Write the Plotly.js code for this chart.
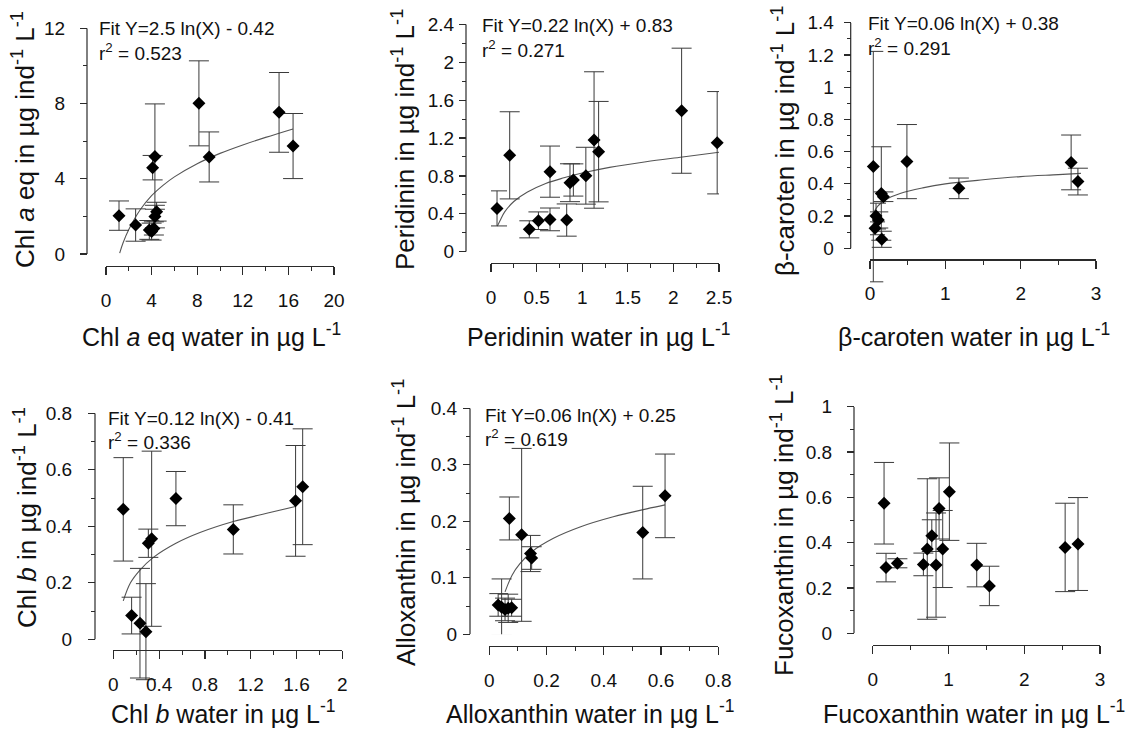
<!DOCTYPE html>
<html>
<head>
<meta charset="utf-8">
<script src="https://cdn.plot.ly/plotly-3.0.1.min.js"></script>
<style>html,body{margin:0;padding:0;background:#fff;}#chart{width:1136px;height:729px;}</style>
</head>
<body>
<div id="chart"></div>
<script>
// ---------------- DATA ----------------
// Panel 1: Chl a eq
const chlaX   = [1.14, 2.6, 3.8, 4.0, 4.2, 4.29, 4.44, 4.09, 4.29, 8.15, 9.05, 15.18, 16.41];
const chlaY   = [2.04, 1.54, 1.28, 1.19, 1.36, 1.99, 2.25, 4.59, 5.18, 8.01, 5.16, 7.53, 5.74];
const chlaErr = [0.78, 0.86, 0.5, 0.45, 0.35, 0.6, 0.5, 0.65, 2.8, 2.26, 1.33, 2.12, 1.73];
const chlaFitX = [1.2, 1.5, 2, 3, 4, 5, 6, 8, 10, 12, 14, 16.4];
const chlaFitY = [0.05, 0.6, 1.3, 2.35, 3.1, 3.65, 4.1, 4.8, 5.35, 5.8, 6.2, 6.65];

// Panel 2: Peridinin
const periX   = [0.066, 0.205, 0.42, 0.52, 0.647, 0.647, 0.83, 0.866, 0.903, 1.04, 1.13, 1.18, 2.09, 2.48];
const periY   = [0.457, 1.017, 0.236, 0.327, 0.341, 0.845, 0.334, 0.728, 0.757, 0.802, 1.179, 1.056, 1.488, 1.15];
const periErr = [0.185, 0.46, 0.09, 0.093, 0.12, 0.27, 0.17, 0.2, 0.17, 0.3, 0.72, 0.53, 0.66, 0.54];
const periFitX = [0.07, 0.1, 0.15, 0.25, 0.4, 0.6, 0.8, 1.0, 1.3, 1.7, 2.1, 2.5];
const periFitY = [0.27, 0.33, 0.42, 0.53, 0.63, 0.72, 0.78, 0.83, 0.89, 0.95, 1.0, 1.05];

// Panel 3: beta-caroten
const caroX   = [0.044, 0.08, 0.067, 0.11, 0.156, 0.178, 0.15, 0.49, 1.18, 2.67, 2.76];
const caroY   = [0.507, 0.2, 0.124, 0.176, 0.056, 0.32, 0.34, 0.538, 0.372, 0.533, 0.414];
const caroErr = [0.715, 0.08, 0.04, 0.05, 0.05, 0.03, 0.29, 0.23, 0.064, 0.17, 0.083];
const caroFitX = [0.05, 0.1, 0.2, 0.4, 0.7, 1.0, 1.5, 2.0, 2.5, 2.8];
const caroFitY = [0.22, 0.26, 0.30, 0.34, 0.375, 0.40, 0.425, 0.445, 0.457, 0.465];

// Panel 4: Chl b
const chlbX   = [0.087, 0.16, 0.233, 0.285, 0.306, 0.335, 0.547, 1.048, 1.592, 1.654];
const chlbY   = [0.46, 0.084, 0.057, 0.027, 0.34, 0.356, 0.498, 0.389, 0.49, 0.54];
const chlbErr = [0.183, 0.065, 0.194, 0.17, 0.05, 0.31, 0.096, 0.087, 0.196, 0.205];
const chlbFitX = [0.087, 0.15, 0.233, 0.35, 0.547, 0.757, 1.048, 1.34, 1.59];
const chlbFitY = [0.136, 0.2, 0.245, 0.29, 0.34, 0.378, 0.417, 0.446, 0.47];

// Panel 5: Alloxanthin
const alloX   = [0.07, 0.113, 0.144, 0.148, 0.031, 0.043, 0.055, 0.066, 0.078, 0.536, 0.614];
const alloY   = [0.205, 0.176, 0.143, 0.135, 0.052, 0.048, 0.044, 0.046, 0.047, 0.18, 0.245];
const alloErr = [0.038, 0.153, 0.032, 0.02, 0.02, 0.05, 0.02, 0.025, 0.015, 0.082, 0.074];
const alloFitX = [0.055, 0.08, 0.107, 0.148, 0.224, 0.317, 0.433, 0.55, 0.614];
const alloFitY = [0.075, 0.105, 0.125, 0.146, 0.17, 0.19, 0.208, 0.222, 0.229];

// Panel 6: Fucoxanthin
const fucoX   = [0.15, 0.176, 0.326, 0.669, 0.72, 0.78, 0.836, 0.876, 0.924, 1.012, 1.373, 1.54, 2.54, 2.71];
const fucoY   = [0.574, 0.29, 0.309, 0.304, 0.372, 0.431, 0.301, 0.551, 0.372, 0.625, 0.301, 0.209, 0.379, 0.394];
const fucoErr = [0.18, 0.063, 0.02, 0.05, 0.31, 0.07, 0.23, 0.135, 0.17, 0.215, 0.096, 0.087, 0.195, 0.205];

// Text
const yTitles = [
  "Chl <i>a</i> eq in µg ind<sup>-1</sup> L<sup>-1</sup>",
  "Peridinin in µg ind<sup>-1</sup> L<sup>-1</sup>",
  "β-caroten in µg ind<sup>-1</sup> L<sup>-1</sup>",
  "Chl <i>b</i> in µg ind<sup>-1</sup> L<sup>-1</sup>",
  "Alloxanthin in µg ind<sup>-1</sup> L<sup>-1</sup>",
  "Fucoxanthin in µg ind<sup>-1</sup> L<sup>-1</sup>"
];
const xTitles = [
  "Chl <i>a</i> eq water in µg L<sup>-1</sup>",
  "Peridinin water in µg L<sup>-1</sup>",
  "β-caroten water in µg L<sup>-1</sup>",
  "Chl <i>b</i> water in µg L<sup>-1</sup>",
  "Alloxanthin water in µg L<sup>-1</sup>",
  "Fucoxanthin water in µg L<sup>-1</sup>"
];
const fitTexts = ["Fit Y=2.5 ln(X) - 0.42", "Fit Y=0.22 ln(X) + 0.83", "Fit Y=0.06 ln(X) + 0.38", "Fit Y=0.12 ln(X) - 0.41", "Fit Y=0.06 ln(X) + 0.25", null];
const r2Texts  = ["r<sup>2</sup> = 0.523", "r<sup>2</sup> = 0.271", "r<sup>2</sup> = 0.291", "r<sup>2</sup> = 0.336", "r<sup>2</sup> = 0.619", null];

// ---------------- LAYOUT GEOMETRY (pixels) ----------------
const W = 1136, H = 729;
const FONT = "Liberation Sans, Arial, sans-serif";
const px = p => p / W;
const py = p => 1 - p / H;

// yd: pixel rows of the y-axis top value and of y = 0; ylo: extra room below 0 (data units) so long error bars are not clipped
const panels = [
  {X: chlaX, Y: chlaY, E: chlaErr, FX: chlaFitX, FY: chlaFitY,
   xd: [106, 334], xr: [0, 20], xdt: 4, xmd: 2, yd: [28.3, 254], yr: [0, 12], ydt: 4, ymd: 2, ylo: 0,
   xline: 266, yline: 87, ystand: 11, yt: [24, 140], xt: [211, 335], fit: [97, 28, 52]},
  {X: periX, Y: periY, E: periErr, FX: periFitX, FY: periFitY,
   xd: [491, 719], xr: [0, 2.5], xdt: 0.5, xmd: 0.25, yd: [24.3, 251.7], yr: [0, 2.4], ydt: 0.4, ymd: 0.2, ylo: 0,
   xline: 262.7, yline: 466, ystand: 1, yt: [404, 140], xt: [598, 335], fit: [480, 25, 49]},
  {X: caroX, Y: caroY, E: caroErr, FX: caroFitX, FY: caroFitY,
   xd: [870, 1096], xr: [0, 3], xdt: 1, xmd: 0.5, yd: [22.7, 248.3], yr: [0, 1.4], ydt: 0.2, ymd: 0.1, ylo: 0.25,
   xline: 259.3, yline: 850.7, ystand: 6, yt: [783, 141], xt: [974, 335], fit: [866, 23, 47]},
  {X: chlbX, Y: chlbY, E: chlbErr, FX: chlbFitX, FY: chlbFitY,
   xd: [113.3, 342.3], xr: [0, 2], xdt: 0.4, xmd: 0.2, yd: [413.3, 639.3], yr: [0, 0.8], ydt: 0.2, ymd: 0.1, ylo: 0.16,
   xline: 650, yline: 95, ystand: 12, yt: [25, 518], xt: [224, 712], fit: [106, 418, 441]},
  {X: alloX, Y: alloY, E: alloErr, FX: alloFitX, FY: alloFitY,
   xd: [489.3, 718.3], xr: [0, 0.8], xdt: 0.2, xmd: 0.1, yd: [408.3, 634.3], yr: [0, 0.4], ydt: 0.1, ymd: 0.05, ylo: 0,
   xline: 646, yline: 470, ystand: 2, yt: [404, 523], xt: [590, 712], fit: [483, 415, 438]},
  {X: fucoX, Y: fucoY, E: fucoErr, FX: null, FY: null,
   xd: [872.7, 1100], xr: [0, 3], xdt: 1, xmd: 0.5, yd: [406.7, 633.3], yr: [0, 1], ydt: 0.2, ymd: 0.1, ylo: 0,
   xline: 645, yline: 854, ystand: 11, yt: [782, 525], xt: [974, 712], fit: null}
];

function steps(a, b, d, skip) {
  const out = [];
  const n = Math.round((b - a) / d);
  for (let k = 0; k <= n; k++) {
    const v = +(a + k * d).toFixed(6);
    if (!skip || !skip.some(s => Math.abs(s - v) < 1e-9)) out.push(v);
  }
  return out;
}

const AX = '#2a2a2a';
const traces = [];
const layout = {
  width: W, height: H,
  margin: {l: 0, r: 0, t: 0, b: 0},
  paper_bgcolor: '#fff', plot_bgcolor: 'rgba(0,0,0,0)',
  showlegend: false,
  font: {family: FONT, color: '#111'},
  annotations: [], shapes: []
};

panels.forEach((p, i) => {
  const n = i + 1;
  const xa = n === 1 ? 'x' : 'x' + n;
  const ya = n === 1 ? 'y' : 'y' + n;
  const xk = n === 1 ? 'xaxis' : 'xaxis' + n;
  const yk = n === 1 ? 'yaxis' : 'yaxis' + n;

  if (p.FX) {
    traces.push({
      type: 'scatter', mode: 'lines', x: p.FX, y: p.FY, xaxis: xa, yaxis: ya,
      line: {color: '#555', width: 1.1, shape: 'spline', smoothing: 1}, hoverinfo: 'skip'
    });
  }
  traces.push({
    type: 'scatter', mode: 'markers', x: p.X, y: p.Y, xaxis: xa, yaxis: ya,
    cliponaxis: false,
    marker: {symbol: 'diamond', size: 10, color: '#000', line: {width: 0}},
    error_y: {type: 'data', array: p.E, visible: true, color: '#3a3a3a', thickness: 1, width: 10}
  });

  layout[xk] = {
    domain: [px(p.xd[0]), px(p.xd[1])], range: p.xr, anchor: 'free', position: py(p.xline),
    showline: true, linecolor: AX, linewidth: 1.2, showgrid: false, zeroline: false,
    ticks: 'outside', ticklen: 8, tickwidth: 1.2, tickcolor: AX, tick0: 0, dtick: p.xdt,
    ticklabelstandoff: 9,
    minor: {ticks: 'outside', ticklen: 4, tickwidth: 1, tickcolor: AX, dtick: p.xmd, tick0: 0, showgrid: false},
    tickfont: {family: FONT, size: 19, color: '#111'}, fixedrange: true
  };

  // y axis: range may extend below 0 (room for long error bars); the axis line itself spans 0..top only
  const scale = (p.yd[1] - p.yd[0]) / (p.yr[1] - p.yr[0]);
  const bottomPx = p.yd[1] + p.ylo * scale;
  const majors = steps(p.yr[0], p.yr[1], p.ydt);
  const minors = steps(p.yr[0], p.yr[1], p.ymd, majors);
  layout[yk] = {
    domain: [py(bottomPx), py(p.yd[0])], range: [p.yr[0] - p.ylo, p.yr[1]], anchor: 'free', position: px(p.yline),
    showline: false, showgrid: false, zeroline: false,
    ticks: 'outside', ticklen: 7, tickwidth: 1.2, tickcolor: AX,
    tickmode: 'array', tickvals: majors,
    ticklabelstandoff: p.ystand,
    minor: {ticks: 'outside', ticklen: 4, tickwidth: 1, tickcolor: AX, tickmode: 'array', tickvals: minors, showgrid: false},
    tickfont: {family: FONT, size: 19, color: '#111'}, fixedrange: true
  };
  layout.shapes.push({
    type: 'line', xref: 'paper', yref: ya, x0: px(p.yline), x1: px(p.yline), y0: p.yr[0], y1: p.yr[1],
    line: {color: AX, width: 1.2}
  });

  layout.annotations.push({
    xref: 'paper', yref: 'paper', x: px(p.yt[0]), y: py(p.yt[1]), text: yTitles[i],
    textangle: -90, showarrow: false, xanchor: 'center', yanchor: 'middle',
    font: {family: FONT, size: 26, color: '#111'}
  });
  layout.annotations.push({
    xref: 'paper', yref: 'paper', x: px(p.xt[0]), y: py(p.xt[1]), text: xTitles[i],
    showarrow: false, xanchor: 'center', yanchor: 'middle',
    font: {family: FONT, size: 25, color: '#111'}
  });
  if (p.fit) {
    layout.annotations.push({
      xref: 'paper', yref: 'paper', x: px(p.fit[0]), y: py(p.fit[1]), text: fitTexts[i],
      showarrow: false, xanchor: 'left', yanchor: 'middle',
      font: {family: FONT, size: 19, color: '#111'}
    });
    layout.annotations.push({
      xref: 'paper', yref: 'paper', x: px(p.fit[0]), y: py(p.fit[2]), text: r2Texts[i],
      showarrow: false, xanchor: 'left', yanchor: 'middle',
      font: {family: FONT, size: 19, color: '#111'}
    });
  }
});

Plotly.newPlot('chart', traces, layout, {displayModeBar: false, staticPlot: true});
</script>
</body>
</html>
